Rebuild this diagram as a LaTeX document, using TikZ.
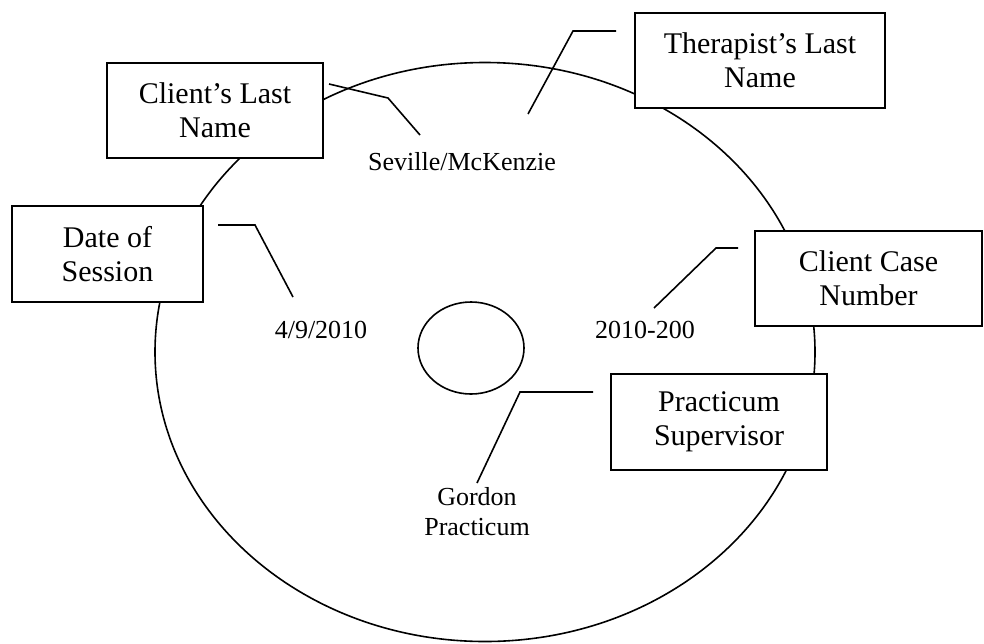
\documentclass[tikz,border=0pt]{standalone}
\usepackage{fontspec}
\setmainfont{Liberation Serif}
\begin{document}
\begin{tikzpicture}[x=1pt,y=-1pt,
  box/.style={draw,line width=1.8pt,fill=white,align=center,font=\fontsize{30}{34}\selectfont,inner sep=0pt},
  lbl/.style={align=center,font=\fontsize{26}{30}\selectfont,inner sep=0pt},
  lead/.style={line width=1.6pt},
  disc/.style={line width=1.6pt}]
\useasboundingbox (0,0) rectangle (984,643);
% disc
\draw[disc] (485,352) ellipse [x radius=330, y radius=289.5];
\draw[disc] (471,348) ellipse [x radius=53, y radius=46];
% boxes
\node[box, minimum width=216pt, minimum height=95pt] (cln) at (215,110.5) {Client’s Last\\Name};
\node[box, minimum width=250pt, minimum height=95pt] (thr) at (760,60.5) {Therapist’s Last\\Name};
\node[box, minimum width=191pt, minimum height=96pt] (dat) at (107.5,254) {Date of\\Session};
\node[box, minimum width=227pt, minimum height=95pt] (ccn) at (868.5,278.5) {Client Case\\Number};
\node[box, minimum width=216pt, minimum height=96pt] (prs) at (719,422) {Practicum\\Supervisor};
% labels
\node[lbl] (sev) at (462,162) {Seville/McKenzie};
\node[lbl] (dts) at (321,330) {4/9/2010};
\node[lbl] (cas) at (645,330) {2010-200};
\node[lbl] (gor) at (477,512) {Gordon\\Practicum};
% leader points
\coordinate (l1a) at (329,84);  \coordinate (l1b) at (388,98);  \coordinate (l1c) at (420,135);
\coordinate (l2a) at (616,31);  \coordinate (l2b) at (573,31);  \coordinate (l2c) at (528,114);
\coordinate (l3a) at (218,225); \coordinate (l3b) at (255,225); \coordinate (l3c) at (293,297);
\coordinate (l4a) at (738,248); \coordinate (l4b) at (716,248); \coordinate (l4c) at (654,308);
\coordinate (l5a) at (593,392); \coordinate (l5b) at (520,392); \coordinate (l5c) at (477,483);
\draw[lead] (l1a) -- (l1b) -- (l1c);
\draw[lead] (l2a) -- (l2b) -- (l2c);
\draw[lead] (l3a) -- (l3b) -- (l3c);
\draw[lead] (l4a) -- (l4b) -- (l4c);
\draw[lead] (l5a) -- (l5b) -- (l5c);
\end{tikzpicture}
\end{document}
